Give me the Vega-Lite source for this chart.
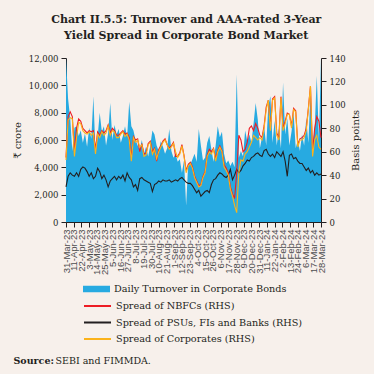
{
"$schema": "https://vega.github.io/schema/vega-lite/v6.json",
"width": 255, "height": 164,
"autosize": {"type": "none"},
"padding": {"left": 66, "top": 58, "right": 53, "bottom": 152},
"background": "#f7f0eb",
"config": {"view": {"stroke": null}, "axis": {"grid": false, "domainColor": "#231f20", "tickColor": "#231f20", "tickSize": 5, "domainWidth": 1, "tickWidth": 1}},
"title": {"text": ["Chart II.5.5: Turnover and AAA-rated 3-Year", "Yield Spread in Corporate Bond Market"], "font": "DejaVu Serif", "fontSize": 11, "fontWeight": "bold", "color": "#231f20", "anchor": "middle", "frame": "bounds", "offset": 13, "lineHeight": 16},
"data": {"values": [
{"d":"2023-03-31","t":12000,"n":55,"p":30,"c":53},
{"d":"2023-04-03","t":9000,"n":90,"p":39,"c":87},
{"d":"2023-04-06","t":7600,"n":94,"p":42,"c":89},
{"d":"2023-04-09","t":5200,"n":90,"p":40,"c":88},
{"d":"2023-04-12","t":6900,"n":60,"p":39,"c":56},
{"d":"2023-04-15","t":7000,"n":80,"p":42,"c":72},
{"d":"2023-04-18","t":6300,"n":88,"p":39,"c":85},
{"d":"2023-04-21","t":6700,"n":86,"p":45,"c":84},
{"d":"2023-04-24","t":5800,"n":80,"p":47,"c":78},
{"d":"2023-04-27","t":6500,"n":78,"p":46,"c":76},
{"d":"2023-04-30","t":5500,"n":76,"p":43,"c":75},
{"d":"2023-05-03","t":6900,"n":78,"p":39,"c":77},
{"d":"2023-05-06","t":6100,"n":77,"p":42,"c":74},
{"d":"2023-05-09","t":9200,"n":78,"p":37,"c":76},
{"d":"2023-05-12","t":5000,"n":62,"p":39,"c":58},
{"d":"2023-05-15","t":6200,"n":77,"p":46,"c":75},
{"d":"2023-05-18","t":8000,"n":74,"p":43,"c":72},
{"d":"2023-05-21","t":6600,"n":78,"p":37,"c":77},
{"d":"2023-05-24","t":7000,"n":76,"p":40,"c":74},
{"d":"2023-05-27","t":5600,"n":78,"p":36,"c":76},
{"d":"2023-05-30","t":6500,"n":83,"p":30,"c":82},
{"d":"2023-06-02","t":8700,"n":76,"p":35,"c":74},
{"d":"2023-06-05","t":6000,"n":80,"p":37,"c":78},
{"d":"2023-06-08","t":7100,"n":78,"p":39,"c":77},
{"d":"2023-06-11","t":6400,"n":74,"p":36,"c":72},
{"d":"2023-06-14","t":6800,"n":74,"p":39,"c":72},
{"d":"2023-06-17","t":5800,"n":76,"p":37,"c":75},
{"d":"2023-06-20","t":6300,"n":78,"p":40,"c":77},
{"d":"2023-06-23","t":7000,"n":75,"p":35,"c":73},
{"d":"2023-06-26","t":6200,"n":76,"p":42,"c":75},
{"d":"2023-06-29","t":8800,"n":72,"p":38,"c":70},
{"d":"2023-07-02","t":7000,"n":55,"p":36,"c":52},
{"d":"2023-07-05","t":6700,"n":73,"p":30,"c":72},
{"d":"2023-07-08","t":6000,"n":70,"p":32,"c":68},
{"d":"2023-07-11","t":5600,"n":71,"p":27,"c":70},
{"d":"2023-07-14","t":5300,"n":60,"p":37,"c":64},
{"d":"2023-07-17","t":6000,"n":67,"p":38,"c":66},
{"d":"2023-07-20","t":5000,"n":58,"p":36,"c":56},
{"d":"2023-07-23","t":5500,"n":59,"p":35,"c":57},
{"d":"2023-07-26","t":4800,"n":67,"p":34,"c":66},
{"d":"2023-07-29","t":5600,"n":69,"p":33,"c":68},
{"d":"2023-08-01","t":6700,"n":60,"p":26,"c":58},
{"d":"2023-08-04","t":6400,"n":63,"p":32,"c":62},
{"d":"2023-08-07","t":5600,"n":52,"p":33,"c":54},
{"d":"2023-08-10","t":5200,"n":62,"p":35,"c":60},
{"d":"2023-08-13","t":5900,"n":65,"p":34,"c":64},
{"d":"2023-08-16","t":5500,"n":69,"p":36,"c":68},
{"d":"2023-08-19","t":5000,"n":71,"p":35,"c":70},
{"d":"2023-08-22","t":5400,"n":66,"p":35,"c":66},
{"d":"2023-08-25","t":6800,"n":63,"p":36,"c":62},
{"d":"2023-08-28","t":5200,"n":65,"p":34,"c":64},
{"d":"2023-08-31","t":4700,"n":68,"p":35,"c":67},
{"d":"2023-09-03","t":5000,"n":56,"p":36,"c":60},
{"d":"2023-09-06","t":4400,"n":56,"p":35,"c":55},
{"d":"2023-09-09","t":4600,"n":59,"p":37,"c":58},
{"d":"2023-09-12","t":3600,"n":66,"p":38,"c":65},
{"d":"2023-09-15","t":4500,"n":57,"p":36,"c":56},
{"d":"2023-09-18","t":1200,"n":44,"p":34,"c":42},
{"d":"2023-09-21","t":4300,"n":49,"p":33,"c":48},
{"d":"2023-09-24","t":4200,"n":51,"p":33,"c":50},
{"d":"2023-09-27","t":4600,"n":47,"p":31,"c":46},
{"d":"2023-09-30","t":5000,"n":39,"p":28,"c":38},
{"d":"2023-10-03","t":4400,"n":35,"p":25,"c":34},
{"d":"2023-10-06","t":6800,"n":31,"p":27,"c":30},
{"d":"2023-10-09","t":5600,"n":32,"p":22,"c":31},
{"d":"2023-10-12","t":4500,"n":39,"p":24,"c":38},
{"d":"2023-10-15","t":4700,"n":43,"p":26,"c":42},
{"d":"2023-10-18","t":5800,"n":57,"p":27,"c":56},
{"d":"2023-10-21","t":6300,"n":62,"p":25,"c":60},
{"d":"2023-10-24","t":5300,"n":60,"p":32,"c":58},
{"d":"2023-10-27","t":4400,"n":63,"p":36,"c":62},
{"d":"2023-10-30","t":5600,"n":54,"p":37,"c":52},
{"d":"2023-11-02","t":7000,"n":61,"p":40,"c":60},
{"d":"2023-11-05","t":6200,"n":65,"p":42,"c":64},
{"d":"2023-11-08","t":6600,"n":61,"p":41,"c":60},
{"d":"2023-11-11","t":5000,"n":49,"p":39,"c":47},
{"d":"2023-11-14","t":4300,"n":46,"p":38,"c":44},
{"d":"2023-11-17","t":4500,"n":42,"p":40,"c":40},
{"d":"2023-11-20","t":4100,"n":30,"p":45,"c":28},
{"d":"2023-11-23","t":4400,"n":24,"p":36,"c":22},
{"d":"2023-11-26","t":4000,"n":20,"p":40,"c":14},
{"d":"2023-11-29","t":10800,"n":42,"p":45,"c":8},
{"d":"2023-12-02","t":4700,"n":74,"p":42,"c":42},
{"d":"2023-12-05","t":5200,"n":70,"p":44,"c":53},
{"d":"2023-12-08","t":4800,"n":60,"p":48,"c":52},
{"d":"2023-12-11","t":6700,"n":62,"p":50,"c":58},
{"d":"2023-12-14","t":5900,"n":68,"p":53,"c":60},
{"d":"2023-12-17","t":6400,"n":80,"p":52,"c":64},
{"d":"2023-12-20","t":5800,"n":82,"p":55,"c":68},
{"d":"2023-12-23","t":7200,"n":78,"p":56,"c":74},
{"d":"2023-12-26","t":8700,"n":84,"p":58,"c":72},
{"d":"2023-12-29","t":7500,"n":80,"p":59,"c":70},
{"d":"2024-01-01","t":5400,"n":74,"p":57,"c":72},
{"d":"2024-01-04","t":6200,"n":72,"p":56,"c":70},
{"d":"2024-01-07","t":7000,"n":82,"p":61,"c":80},
{"d":"2024-01-10","t":5600,"n":98,"p":62,"c":96},
{"d":"2024-01-13","t":8500,"n":104,"p":58,"c":104},
{"d":"2024-01-16","t":9200,"n":80,"p":56,"c":78},
{"d":"2024-01-19","t":5800,"n":105,"p":58,"c":104},
{"d":"2024-01-22","t":7400,"n":107,"p":55,"c":106},
{"d":"2024-01-25","t":5600,"n":76,"p":60,"c":74},
{"d":"2024-01-28","t":6800,"n":72,"p":58,"c":70},
{"d":"2024-01-31","t":5400,"n":107,"p":56,"c":106},
{"d":"2024-02-03","t":10200,"n":80,"p":60,"c":78},
{"d":"2024-02-06","t":6400,"n":86,"p":52,"c":84},
{"d":"2024-02-09","t":7600,"n":93,"p":39,"c":92},
{"d":"2024-02-12","t":5600,"n":92,"p":57,"c":92},
{"d":"2024-02-15","t":6600,"n":82,"p":58,"c":80},
{"d":"2024-02-18","t":8000,"n":97,"p":54,"c":96},
{"d":"2024-02-21","t":5400,"n":95,"p":55,"c":94},
{"d":"2024-02-24","t":6000,"n":66,"p":52,"c":64},
{"d":"2024-02-27","t":5200,"n":71,"p":50,"c":70},
{"d":"2024-03-01","t":6400,"n":72,"p":50,"c":70},
{"d":"2024-03-04","t":5600,"n":74,"p":47,"c":72},
{"d":"2024-03-07","t":7600,"n":80,"p":44,"c":78},
{"d":"2024-03-10","t":5800,"n":97,"p":46,"c":96},
{"d":"2024-03-13","t":9400,"n":116,"p":42,"c":116},
{"d":"2024-03-16","t":5600,"n":60,"p":44,"c":56},
{"d":"2024-03-19","t":6800,"n":80,"p":40,"c":70},
{"d":"2024-03-22","t":10700,"n":90,"p":42,"c":74},
{"d":"2024-03-25","t":6000,"n":86,"p":40,"c":64},
{"d":"2024-03-28","t":12000,"n":72,"p":41,"c":62}
]},
"layer": [
{"mark": {"type": "area", "interpolate": "linear"},
 "encoding": {
  "x": {"field": "d", "type": "temporal",
   "scale": {"type": "utc", "nice": false, "domain": [{"year": 2023, "month": 3, "date": 31, "utc": true}, {"year": 2024, "month": 3, "date": 28, "utc": true}]},
   "axis": {"orient": "bottom", "format": "%-d-%b-%y", "labelAngle": 270, "labelOverlap": false, "labelFont": "Liberation Sans", "labelFontSize": 9.5, "labelColor": "#4d4d4f", "labelPadding": 2,
    "values": [
     {"year": 2023, "month": 3, "date": 31, "utc": true},
     {"year": 2023, "month": 4, "date": 11, "utc": true},
     {"year": 2023, "month": 4, "date": 22, "utc": true},
     {"year": 2023, "month": 5, "date": 3, "utc": true},
     {"year": 2023, "month": 5, "date": 14, "utc": true},
     {"year": 2023, "month": 5, "date": 25, "utc": true},
     {"year": 2023, "month": 6, "date": 5, "utc": true},
     {"year": 2023, "month": 6, "date": 16, "utc": true},
     {"year": 2023, "month": 6, "date": 27, "utc": true},
     {"year": 2023, "month": 7, "date": 8, "utc": true},
     {"year": 2023, "month": 7, "date": 19, "utc": true},
     {"year": 2023, "month": 7, "date": 30, "utc": true},
     {"year": 2023, "month": 8, "date": 10, "utc": true},
     {"year": 2023, "month": 8, "date": 21, "utc": true},
     {"year": 2023, "month": 9, "date": 1, "utc": true},
     {"year": 2023, "month": 9, "date": 12, "utc": true},
     {"year": 2023, "month": 9, "date": 23, "utc": true},
     {"year": 2023, "month": 10, "date": 4, "utc": true},
     {"year": 2023, "month": 10, "date": 15, "utc": true},
     {"year": 2023, "month": 10, "date": 26, "utc": true},
     {"year": 2023, "month": 11, "date": 6, "utc": true},
     {"year": 2023, "month": 11, "date": 17, "utc": true},
     {"year": 2023, "month": 11, "date": 28, "utc": true},
     {"year": 2023, "month": 12, "date": 9, "utc": true},
     {"year": 2023, "month": 12, "date": 20, "utc": true},
     {"year": 2023, "month": 12, "date": 31, "utc": true},
     {"year": 2024, "month": 1, "date": 11, "utc": true},
     {"year": 2024, "month": 1, "date": 22, "utc": true},
     {"year": 2024, "month": 2, "date": 2, "utc": true},
     {"year": 2024, "month": 2, "date": 13, "utc": true},
     {"year": 2024, "month": 2, "date": 24, "utc": true},
     {"year": 2024, "month": 3, "date": 6, "utc": true},
     {"year": 2024, "month": 3, "date": 17, "utc": true},
     {"year": 2024, "month": 3, "date": 28, "utc": true}
    ],
    "title": "Source:", "titleFont": "DejaVu Serif", "titleFontSize": 9.5, "titleFontWeight": "bold", "titleColor": "#231f20", "titleX": -53, "titleY": 138, "titleAlign": "left", "titleAnchor": "start", "titleBaseline": "middle"}},
  "y": {"field": "t", "type": "quantitative", "scale": {"domain": [0, 12000], "nice": false},
   "axis": {"orient": "left", "values": [0, 2000, 4000, 6000, 8000, 10000, 12000], "format": ",.0f", "labelFont": "DejaVu Serif", "labelFontSize": 8.5, "labelColor": "#231f20", "labelPadding": 3, "title": "₹ crore", "titleFont": "DejaVu Serif", "titleFontSize": 10, "titleFontWeight": "normal", "titleColor": "#231f20", "titlePadding": 6}},
  "fill": {"datum": "Daily Turnover in Corporate Bonds", "scale": {"range": ["#27aae1"]},
   "legend": {"orient": "none", "legendX": 17, "legendY": 225, "title": null, "symbolType": "M-1,-0.24H1V0.24H-1Z", "symbolSize": 729, "symbolStrokeWidth": 0, "clipHeight": 12, "labelFont": "DejaVu Serif", "labelFontSize": 9.7, "labelColor": "#231f20", "labelOffset": 4, "labelLimit": 0, "padding": 0}}
 }},
{"encoding": {
  "x": {"field": "d", "type": "temporal",
   "axis": {"orient": "top", "labels": false, "ticks": false, "domain": false, "title": "SEBI and FIMMDA.", "titleFont": "DejaVu Serif", "titleFontSize": 9.5, "titleFontWeight": "normal", "titleColor": "#231f20", "titleX": -11, "titleY": 302, "titleAlign": "left", "titleAnchor": "start", "titleBaseline": "middle"}}
 },
 "layer": [
  {"mark": {"type": "line", "strokeWidth": 1.1},
   "encoding": {
    "y": {"field": "p", "type": "quantitative", "scale": {"domain": [0, 140], "nice": false},
     "axis": {"orient": "right", "values": [0, 20, 40, 60, 80, 100, 120, 140], "labelFont": "DejaVu Serif", "labelFontSize": 8.5, "labelColor": "#231f20", "labelPadding": 3, "title": "Basis points", "titleAngle": 270, "titleFont": "DejaVu Serif", "titleFontSize": 10, "titleFontWeight": "normal", "titleColor": "#231f20", "titlePadding": 15}},
    "stroke": {"datum": "Spread of PSUs, FIs and Banks (RHS)",
     "scale": {"domain": ["Spread of NBFCs (RHS)", "Spread of PSUs, FIs and Banks (RHS)", "Spread of Corporates (RHS)"], "range": ["#ed1c24", "#231f20", "#fbb21a"]},
     "legend": {"orient": "none", "legendX": 17, "legendY": 242, "title": null, "symbolType": "stroke", "symbolSize": 729, "symbolStrokeWidth": 2, "clipHeight": 12, "rowPadding": 4.5, "labelFont": "DejaVu Serif", "labelFontSize": 9.7, "labelColor": "#231f20", "labelOffset": 4, "labelLimit": 0, "padding": 0}}
   }},
  {"mark": {"type": "line", "strokeWidth": 1.1},
   "encoding": {
    "y": {"field": "n", "type": "quantitative", "scale": {"domain": [0, 140], "nice": false},
     "axis": {"orient": "right", "values": [0, 20, 40, 60, 80, 100, 120, 140], "labelFont": "DejaVu Serif", "labelFontSize": 8.5, "labelColor": "#231f20", "labelPadding": 3, "title": "Basis points", "titleAngle": 270, "titleFont": "DejaVu Serif", "titleFontSize": 10, "titleFontWeight": "normal", "titleColor": "#231f20", "titlePadding": 15}},
    "stroke": {"datum": "Spread of NBFCs (RHS)"}
   }},
  {"mark": {"type": "line", "strokeWidth": 1.1},
   "encoding": {
    "y": {"field": "c", "type": "quantitative", "scale": {"domain": [0, 140], "nice": false},
     "axis": {"orient": "right", "values": [0, 20, 40, 60, 80, 100, 120, 140], "labelFont": "DejaVu Serif", "labelFontSize": 8.5, "labelColor": "#231f20", "labelPadding": 3, "title": "Basis points", "titleAngle": 270, "titleFont": "DejaVu Serif", "titleFontSize": 10, "titleFontWeight": "normal", "titleColor": "#231f20", "titlePadding": 15}},
    "stroke": {"datum": "Spread of Corporates (RHS)"}
   }}
 ]}
],
"resolve": {"scale": {"y": "independent"}, "axis": {"x": "independent"}}
}
